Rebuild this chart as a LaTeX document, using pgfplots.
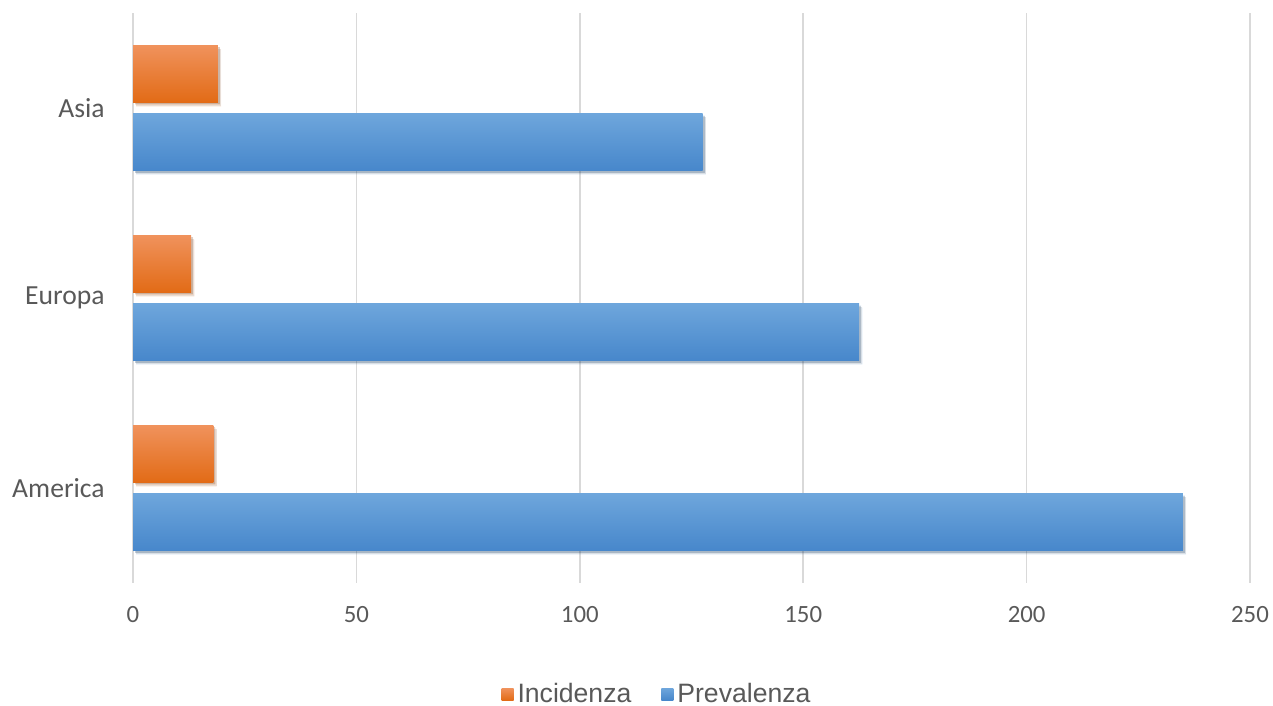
\documentclass[border=0pt]{standalone}
\usepackage{fontspec}
\setmainfont{Carlito}
\newfontfamily\legendfont{Liberation Sans}
\usepackage{pgfplots}
\pgfplotsset{compat=1.18}
\usetikzlibrary{shadows}

\definecolor{txt}{HTML}{595959}
\definecolor{gridc}{HTML}{D9D9D9}
\definecolor{orTop}{HTML}{F0925C}
\definecolor{orMid}{HTML}{F47F26}
\definecolor{orBot}{HTML}{E26B16}
\definecolor{blTop}{HTML}{6EA6DC}
\definecolor{blMid}{HTML}{5B9BD8}
\definecolor{blBot}{HTML}{4787CB}

% each bar is its own plot so the gradient runs across that bar only
\pgfplotsset{
  softshadow/.style={
    drop shadow={shadow xshift=1.6pt, shadow yshift=-1.9pt, fill=black, opacity=0.09},
    drop shadow={shadow xshift=1.0pt, shadow yshift=-1.1pt, fill=black, opacity=0.15}},
  inc/.style={draw=none, bar shift=0.18, top color=orTop, middle color=orMid, bottom color=orBot, softshadow},
  prev/.style={draw=none, bar shift=-0.18, top color=blTop, middle color=blMid, bottom color=blBot, softshadow},
}

\begin{document}
\begin{tikzpicture}
\path[use as bounding box] (0,0) rectangle (636.5pt,353pt);
\begin{axis}[
  at={(66.5pt,61.5pt)}, anchor=south west,
  scale only axis, width=558.5pt, height=285pt,
  xbar, bar width=0.3,
  xmin=0, xmax=250, ymin=-0.5, ymax=2.5,
  xtick={0,50,100,150,200,250},
  ytick={0,1,2}, yticklabels={America,Europa,Asia},
  xmajorgrids, grid style={gridc, line width=0.8pt},
  axis line style={draw=none},
  major tick length=0pt,
  /pgf/number format/assume math mode=true,
  xticklabel style={txt, font=\fontsize{12.4}{14}\selectfont, inner sep=0pt, anchor=north, yshift=-11.5pt},
  yticklabel style={txt, font=\fontsize{13.8}{16}\selectfont, inner sep=0pt, anchor=east, xshift=-14pt},
  legend style={at={(0.47,-0.195)}, anchor=center, draw=none, fill=none,
    legend columns=-1, font=\legendfont\fontsize{13.3}{15}\selectfont, text=txt,
    /tikz/every even column/.append style={column sep=13pt},
    inner sep=0pt, cells={inner sep=1.5pt}},
  legend image code/.code={},
]
% legend entries
\addlegendimage{legend image code/.code={\shade[draw=none, top color=orTop, middle color=orMid, bottom color=orBot] (0pt,-3pt) rectangle (6pt,3pt);}}
\addlegendentry{Incidenza}
\addlegendimage{legend image code/.code={\shade[draw=none, top color=blTop, middle color=blMid, bottom color=blBot] (0pt,-3pt) rectangle (6pt,3pt);}}
\addlegendentry{Prevalenza}
% Incidenza
\addplot[inc, forget plot] coordinates {(18,0)};
\addplot[inc, forget plot] coordinates {(13,1)};
\addplot[inc, forget plot] coordinates {(19,2)};
% Prevalenza
\addplot[prev, forget plot] coordinates {(235,0)};
\addplot[prev, forget plot] coordinates {(162.5,1)};
\addplot[prev, forget plot] coordinates {(127.5,2)};
\end{axis}
\end{tikzpicture}
\end{document}
